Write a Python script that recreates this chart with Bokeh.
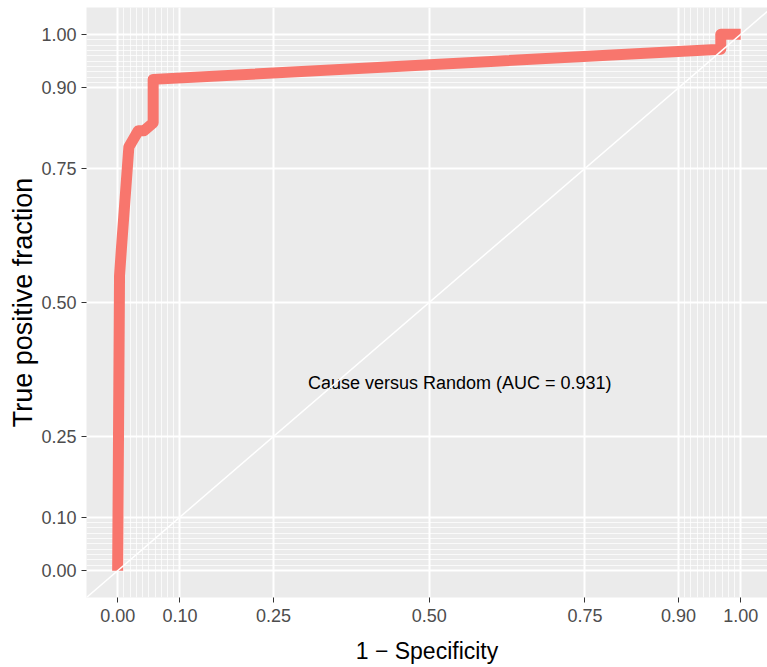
from bokeh.plotting import figure
from bokeh.models import Range1d, FixedTicker, NumeralTickFormatter, Slope
from bokeh.core.properties import value
from bokeh.embed import file_html
from bokeh.resources import INLINE

# ROC curve (Cause versus Random)
fpr = [0.0, 0.003, 0.006, 0.018, 0.033, 0.042, 0.057, 0.057, 0.968, 0.968, 1.0]
tpr = [0.0, 0.55, 0.60, 0.79, 0.82, 0.82, 0.835, 0.916, 0.972, 1.0, 1.0]

major_breaks = [0.0, 0.1, 0.25, 0.5, 0.75, 0.9, 1.0]
minor_breaks = [0.00, 0.01, 0.02, 0.03, 0.04, 0.05, 0.06, 0.07, 0.08, 0.09, 0.10,
                0.90, 0.91, 0.92, 0.93, 0.94, 0.95, 0.96, 0.97, 0.98, 0.99, 1.00]

label_text = ["Cause versus Random (AUC = 0.931)"]
label_x = [0.549]
label_y = [0.35]

FONT = "Liberation Sans"

p = figure(width=767, height=667, output_backend="svg", toolbar_location=None,
           x_range=Range1d(-0.05, 1.043), y_range=Range1d(-0.05, 1.05),
           min_border_left=86, min_border_right=0, min_border_top=7, min_border_bottom=70)

p.background_fill_color = "#EBEBEB"
p.border_fill_color = "white"
p.outline_line_color = None

for ax in (p.xaxis, p.yaxis):
    ax.ticker = FixedTicker(ticks=major_breaks, minor_ticks=minor_breaks)
    ax.formatter = NumeralTickFormatter(format="0.00")
    ax.axis_line_color = None
    ax.major_tick_line_color = "#333333"
    ax.major_tick_in = 0
    ax.major_tick_out = 5
    ax.minor_tick_line_color = None
    ax.major_label_text_color = "#4D4D4D"
    ax.major_label_text_font = FONT
    ax.major_label_text_font_size = "18px"
    ax.axis_label_text_font = FONT
    ax.axis_label_text_font_style = "normal"
    ax.axis_label_text_color = "black"

p.xaxis.axis_label = "1 \u2212 Specificity"
p.yaxis.axis_label = "True positive fraction"
p.xaxis.axis_label_text_font_size = "23px"
p.yaxis.axis_label_text_font_size = "27px"
p.xaxis.major_label_standoff = 6
p.yaxis.major_label_standoff = 5
p.xaxis.axis_label_standoff = 13
p.yaxis.axis_label_standoff = 0

for g in (p.xgrid, p.ygrid):
    g.grid_line_color = "white"
    g.grid_line_width = 2
    g.minor_grid_line_color = "white"
    g.minor_grid_line_alpha = 0.75
    g.minor_grid_line_width = 1

p.line(fpr, tpr, line_color="#F8766D", line_width=11, line_cap="butt", line_join="round")

p.text(x=label_x, y=label_y, text=label_text, text_align="center", text_baseline="middle",
       text_font=value(FONT), text_font_size="18px", text_color="black")

p.add_layout(Slope(gradient=1, y_intercept=0, line_color="white", line_width=1.5))

open("out.html", "w").write(file_html(p, INLINE))
